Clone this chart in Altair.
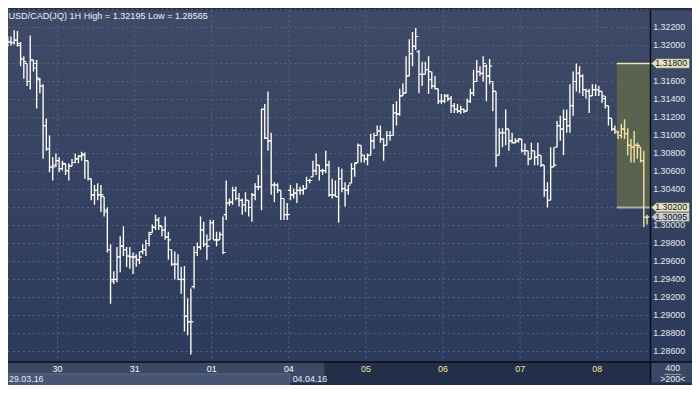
import altair as alt
import pandas as pd

title_text = "USD/CAD(JQ) 1H High = 1.32195 Low = 1.28565"

opens = [
    1.3197, 1.3200, 1.3204, 1.3203, 1.3206, 1.3200, 1.3185, 1.3180, 1.3160, 1.3184,
    1.3180, 1.3162, 1.3155, 1.3111, 1.3085, 1.3065, 1.3067, 1.3072, 1.3063, 1.3068,
    1.3061, 1.3066, 1.3070, 1.3074, 1.3077, 1.3078, 1.3072, 1.3052, 1.3034, 1.3039,
    1.3034, 1.3032, 1.3015, 1.2973, 1.2938, 1.2940, 1.2965, 1.2977, 1.2973, 1.2966,
    1.2965, 1.2965, 1.2962, 1.2971, 1.2973, 1.2980, 1.2992, 1.2998, 1.3006, 1.2999,
    1.2995, 1.2987, 1.2973, 1.2957, 1.2957, 1.2940, 1.2940, 1.2899, 1.2893, 1.2932,
    1.2970, 1.2976, 1.2995, 1.2979, 1.2984, 1.3003, 1.2984, 1.2984, 1.2990, 1.3012,
    1.3025, 1.3026, 1.3039, 1.3030, 1.3028, 1.3023, 1.3028, 1.3020, 1.3034, 1.3043,
    1.3043, 1.3129, 1.3097, 1.3094, 1.3045, 1.3045, 1.3039, 1.3030, 1.3012, 1.3039,
    1.3034, 1.3036, 1.3039, 1.3039, 1.3041, 1.3050, 1.3054, 1.3061, 1.3067, 1.3061,
    1.3061, 1.3067, 1.3034, 1.3034, 1.3032, 1.3052, 1.3041, 1.3039, 1.3047, 1.3063,
    1.3070, 1.3089, 1.3078, 1.3074, 1.3078, 1.3094, 1.3100, 1.3105, 1.3096, 1.3089,
    1.3100, 1.3100, 1.3125, 1.3124, 1.3144, 1.3147, 1.3166, 1.3191, 1.3199, 1.3193,
    1.3168, 1.3168, 1.3173, 1.3162, 1.3155, 1.3152, 1.3138, 1.3138, 1.3144, 1.3141,
    1.3133, 1.3129, 1.3127, 1.3129, 1.3127, 1.3138, 1.3147, 1.3160, 1.3171, 1.3169,
    1.3177, 1.3166, 1.3160, 1.3149, 1.3078, 1.3103, 1.3103, 1.3107, 1.3094, 1.3092,
    1.3094, 1.3096, 1.3083, 1.3083, 1.3074, 1.3083, 1.3076, 1.3078, 1.3067, 1.3039,
    1.3028, 1.3065, 1.3087, 1.3111, 1.3107, 1.3118, 1.3111, 1.3133, 1.3160, 1.3169,
    1.3166, 1.3151, 1.3149, 1.3144, 1.3151, 1.3151, 1.3149, 1.3141, 1.3133, 1.3119,
    1.3107, 1.3103, 1.3100, 1.3107, 1.3102, 1.3089, 1.3087, 1.3089, 1.3087, 1.3072,
    1.3009,
]
highs = [
    1.3204, 1.3210, 1.3210, 1.3217, 1.3216, 1.3204, 1.3188, 1.3180, 1.3211, 1.3184,
    1.3184, 1.3164, 1.3157, 1.3119, 1.3100, 1.3076, 1.3080, 1.3076, 1.3072, 1.3069,
    1.3069, 1.3074, 1.3080, 1.3078, 1.3082, 1.3081, 1.3072, 1.3052, 1.3045, 1.3047,
    1.3045, 1.3032, 1.3020, 1.2979, 1.2949, 1.2976, 1.2988, 1.2999, 1.2976, 1.2976,
    1.2970, 1.2968, 1.2971, 1.2979, 1.2984, 1.2993, 1.3001, 1.3012, 1.3009, 1.2999,
    1.3010, 1.2993, 1.2973, 1.2971, 1.2968, 1.2954, 1.2955, 1.2919, 1.2930, 1.2977,
    1.2981, 1.3010, 1.3004, 1.2990, 1.3006, 1.3006, 1.2993, 1.2993, 1.3010, 1.3050,
    1.3030, 1.3043, 1.3043, 1.3036, 1.3030, 1.3037, 1.3028, 1.3036, 1.3047, 1.3056,
    1.3130, 1.3135, 1.3149, 1.3103, 1.3048, 1.3047, 1.3039, 1.3030, 1.3025, 1.3045,
    1.3041, 1.3047, 1.3043, 1.3045, 1.3054, 1.3052, 1.3072, 1.3080, 1.3067, 1.3063,
    1.3083, 1.3072, 1.3052, 1.3050, 1.3065, 1.3063, 1.3048, 1.3045, 1.3069, 1.3070,
    1.3091, 1.3089, 1.3078, 1.3080, 1.3102, 1.3103, 1.3111, 1.3111, 1.3097, 1.3105,
    1.3105, 1.3135, 1.3138, 1.3152, 1.3158, 1.3188, 1.3207, 1.3215, 1.32195, 1.3195,
    1.3182, 1.3182, 1.3188, 1.3171, 1.3166, 1.3152, 1.3146, 1.3146, 1.3146, 1.3144,
    1.3136, 1.3135, 1.3133, 1.3130, 1.3141, 1.3152, 1.3173, 1.3184, 1.3177, 1.3188,
    1.3179, 1.3185, 1.3160, 1.3149, 1.3108, 1.3108, 1.3129, 1.3107, 1.3103, 1.3097,
    1.3097, 1.3096, 1.3091, 1.3083, 1.3092, 1.3083, 1.3092, 1.3078, 1.3067, 1.3048,
    1.3087, 1.3087, 1.3116, 1.3122, 1.3129, 1.3129, 1.3157, 1.3171, 1.3180, 1.3177,
    1.3168, 1.3152, 1.3152, 1.3157, 1.3157, 1.3155, 1.3149, 1.3144, 1.3133, 1.3119,
    1.3111, 1.3105, 1.3113, 1.3118, 1.3108, 1.3096, 1.3105, 1.3092, 1.3087, 1.3083,
    1.3012,
]
lows = [
    1.3192, 1.3199, 1.3200, 1.3201, 1.3199, 1.3177, 1.3163, 1.3155, 1.3151, 1.3171,
    1.3130, 1.3147, 1.3074, 1.3083, 1.3059, 1.3050, 1.3065, 1.3059, 1.3061, 1.3056,
    1.3050, 1.3066, 1.3069, 1.3069, 1.3072, 1.3052, 1.3050, 1.3028, 1.3023, 1.3028,
    1.3015, 1.3010, 1.2970, 1.2913, 1.2935, 1.2937, 1.2948, 1.2966, 1.2954, 1.2952,
    1.2946, 1.2954, 1.2957, 1.2968, 1.2966, 1.2977, 1.2992, 1.2995, 1.2995, 1.2988,
    1.2984, 1.2962, 1.2955, 1.2940, 1.2940, 1.2924, 1.2882, 1.2878, 1.28565, 1.2930,
    1.2966, 1.2973, 1.2976, 1.2962, 1.2984, 1.2984, 1.2977, 1.2984, 1.2968, 1.3006,
    1.3022, 1.3023, 1.3028, 1.3021, 1.3012, 1.3015, 1.3010, 1.3004, 1.3028, 1.3039,
    1.3017, 1.3096, 1.3083, 1.3034, 1.3026, 1.3036, 1.3006, 1.3006, 1.3006, 1.3028,
    1.3030, 1.3025, 1.3034, 1.3034, 1.3041, 1.3047, 1.3054, 1.3056, 1.3050, 1.3056,
    1.3058, 1.3032, 1.3030, 1.3032, 1.3003, 1.3037, 1.3021, 1.3034, 1.3047, 1.3054,
    1.3070, 1.3070, 1.3070, 1.3067, 1.3078, 1.3085, 1.3100, 1.3092, 1.3072, 1.3089,
    1.3094, 1.3100, 1.3111, 1.3122, 1.3144, 1.3147, 1.3166, 1.3177, 1.3195, 1.3147,
    1.3155, 1.3168, 1.3146, 1.3152, 1.3151, 1.3135, 1.3135, 1.3136, 1.3138, 1.3125,
    1.3125, 1.3125, 1.3124, 1.3125, 1.3127, 1.3136, 1.3144, 1.3160, 1.3166, 1.3160,
    1.3138, 1.3157, 1.3127, 1.3065, 1.3078, 1.3087, 1.3089, 1.3083, 1.3091, 1.3091,
    1.3092, 1.3081, 1.3078, 1.3067, 1.3074, 1.3067, 1.3067, 1.3065, 1.3032, 1.3020,
    1.3028, 1.3065, 1.3087, 1.3094, 1.3078, 1.3103, 1.3103, 1.3122, 1.3149, 1.3147,
    1.3144, 1.3141, 1.3125, 1.3144, 1.3144, 1.3144, 1.3136, 1.3130, 1.3111, 1.3105,
    1.3102, 1.3096, 1.3097, 1.3096, 1.3078, 1.3070, 1.3070, 1.3074, 1.3070, 1.2998,
    1.3001,
]
closes = [
    1.3200, 1.3204, 1.3203, 1.3206, 1.3202, 1.3185, 1.3182, 1.3160, 1.3184, 1.3175,
    1.3164, 1.3155, 1.3111, 1.3085, 1.3065, 1.3065, 1.3072, 1.3063, 1.3069, 1.3061,
    1.3066, 1.3070, 1.3074, 1.3077, 1.3079, 1.3072, 1.3052, 1.3034, 1.3039, 1.3034,
    1.3034, 1.3017, 1.2973, 1.2940, 1.2940, 1.2965, 1.2977, 1.2973, 1.2966, 1.2965,
    1.2965, 1.2962, 1.2965, 1.2973, 1.2980, 1.2990, 1.2998, 1.3006, 1.3000, 1.2995,
    1.2987, 1.2984, 1.2957, 1.2957, 1.2940, 1.2940, 1.2899, 1.2893, 1.2893, 1.2970,
    1.2976, 1.2995, 1.2979, 1.2977, 1.3003, 1.2984, 1.2984, 1.2990, 1.2970, 1.3025,
    1.3026, 1.3039, 1.3030, 1.3028, 1.3023, 1.3028, 1.3020, 1.3034, 1.3043, 1.3043,
    1.3129, 1.3097, 1.3094, 1.3045, 1.3045, 1.3039, 1.3030, 1.3012, 1.3012, 1.3034,
    1.3036, 1.3039, 1.3039, 1.3041, 1.3050, 1.3050, 1.3061, 1.3067, 1.3061, 1.3061,
    1.3067, 1.3034, 1.3034, 1.3032, 1.3052, 1.3041, 1.3039, 1.3045, 1.3063, 1.3069,
    1.3089, 1.3078, 1.3074, 1.3078, 1.3094, 1.3100, 1.3105, 1.3096, 1.3089, 1.3100,
    1.3100, 1.3125, 1.3124, 1.3144, 1.3147, 1.3166, 1.3191, 1.3199, 1.3210, 1.3168,
    1.3168, 1.3173, 1.3171, 1.3155, 1.3152, 1.3138, 1.3138, 1.3144, 1.3141, 1.3133,
    1.3129, 1.3127, 1.3129, 1.3127, 1.3138, 1.3147, 1.3160, 1.3171, 1.3169, 1.3180,
    1.3166, 1.3177, 1.3149, 1.3078, 1.3103, 1.3103, 1.3107, 1.3094, 1.3092, 1.3094,
    1.3096, 1.3083, 1.3083, 1.3074, 1.3083, 1.3076, 1.3078, 1.3067, 1.3039, 1.3028,
    1.3065, 1.3067, 1.3111, 1.3107, 1.3118, 1.3111, 1.3133, 1.3160, 1.3169, 1.3166,
    1.3151, 1.3149, 1.3144, 1.3151, 1.3151, 1.3149, 1.3144, 1.3133, 1.3119, 1.3107,
    1.3105, 1.3100, 1.3107, 1.3102, 1.3089, 1.3087, 1.3089, 1.3089, 1.3072, 1.3009,
    1.30095,
]

day_labels = ["30", "31", "01", "04", "05", "06", "07", "08"]
day_start_bar = [16.5, 40.5, 64.5, 88.5, 112.5, 136.5, 160.5, 184.5]
day_in_range = ["on", "on", "on", "on", "off", "off", "off", "off"]
price_ticks = [1.286, 1.288, 1.290, 1.292, 1.294, 1.296, 1.298, 1.300, 1.302, 1.304,
               1.306, 1.308, 1.310, 1.312, 1.314, 1.316, 1.318, 1.320, 1.322]
grid_prices = price_ticks + [1.324]
zone_start_bar = 190.6
zone_top = 1.318
zone_bottom = 1.302
marker_prices = [1.318, 1.302, 1.30095]
marker_kinds = ["zone", "zone", "last"]
date_left = "29.03.16"
date_right = "04.04.16"
bars_total = "400"
bars_shown = ">200<"

# ---- layout ----
W, H = 650, 356
PR, PB = 42, 21
X0 = 1.0769
X1 = X0 + 200
Y0 = 1.284823
Y1 = 1.323922
xs = alt.Scale(domain=[X0, X1], nice=False, zero=False)
ys = alt.Scale(domain=[Y0, Y1], nice=False, zero=False)
FONT = "Liberation Sans"
GRID = "#586582"
TOP, BOT = "#3e4a67", "#2c3a5b"


def grad(c0, c1):
    return alt.LinearGradient(
        gradient="linear",
        stops=[alt.GradientStop(color=c0, offset=0), alt.GradientStop(color=c1, offset=1)],
        x1=0, x2=0, y1=0, y2=1,
    )


one = pd.DataFrame({"k": [0]})


def box(x, x2, y, y2, fill, stroke=None):
    kw = dict(fill=fill)
    if stroke:
        kw.update(stroke=stroke, strokeWidth=1)
    return alt.Chart(one).mark_rect(**kw).encode(
        x=alt.value(x), x2=alt.value(x2), y=alt.value(y), y2=alt.value(y2)
    )


def label(text, x, y, color="#e8ebf2", align="left", size=9):
    return alt.Chart(pd.DataFrame({"t": [text]})).mark_text(
        align=align, baseline="middle", font=FONT, fontSize=size, color=color
    ).encode(x=alt.value(x), y=alt.value(y), text="t:N")


df = pd.DataFrame({"bar": list(range(len(opens))), "open": opens, "high": highs,
                   "low": lows, "close": closes})
df["zone"] = ["in" if b > zone_start_bar else "out" for b in df["bar"]]
bar_color = alt.Color("zone:N", scale=alt.Scale(domain=["out", "in"], range=["#fdfbf6", "#f4e3a6"]),
                      legend=None)

base = alt.Chart(df)
hl = base.mark_rule(strokeWidth=1.4, clip=True).encode(
    x=alt.X("bar:Q", scale=xs, axis=None),
    y=alt.Y("low:Q", scale=ys, axis=None),
    y2="high:Q",
    color=bar_color,
)
op = base.mark_rule(strokeWidth=1.2, xOffset=-2.6, x2Offset=0, clip=True).encode(
    x=alt.X("bar:Q", scale=xs, axis=None), x2="bar:Q",
    y=alt.Y("open:Q", scale=ys, axis=None), color=bar_color,
)
cl = base.mark_rule(strokeWidth=1.2, xOffset=0, x2Offset=2.6, clip=True).encode(
    x=alt.X("bar:Q", scale=xs, axis=None), x2="bar:Q",
    y=alt.Y("close:Q", scale=ys, axis=None), color=bar_color,
)

grid_h = alt.Chart(pd.DataFrame({"p": grid_prices})).mark_rule(
    strokeDash=[2, 3], color=GRID, strokeWidth=1
).encode(y=alt.Y("p:Q", scale=ys, axis=None), x=alt.value(0), x2=alt.value(W))

days_df = pd.DataFrame({"pos": day_start_bar, "lab": day_labels, "on": day_in_range})
grid_v = alt.Chart(days_df).mark_rule(strokeDash=[2, 3], color=GRID, strokeWidth=1).encode(
    x=alt.X("pos:Q", scale=xs, axis=None), y=alt.value(0), y2=alt.value(H)
)
day_text = alt.Chart(days_df).mark_text(
    align="center", baseline="middle", font=FONT, fontSize=9
).encode(
    x=alt.X("pos:Q", scale=xs, axis=None), y=alt.value(H + 7.5), text="lab:N",
    color=alt.Color("on:N", scale=alt.Scale(domain=["on", "off"], range=["#eef0f5", "#6e7993"]),
                    legend=None),
)

# axis labels that are not covered by a price marker box
covered = set(round(v, 5) for v in marker_prices)
shown_ticks = [v for v in price_ticks if round(v, 5) not in covered]
ylab_df = pd.DataFrame({"p": shown_ticks, "t": [f"{v:.5f}" for v in shown_ticks]})
y_text = alt.Chart(ylab_df).mark_text(
    align="left", baseline="middle", font=FONT, fontSize=9, color="#e4e8f0"
).encode(x=alt.value(W + 2.7), y=alt.Y("p:Q", scale=ys, axis=None), text="t:N")

zone_df = pd.DataFrame({"start": [zone_start_bar], "top": [zone_top], "bottom": [zone_bottom]})
zone_rect = alt.Chart(zone_df).mark_rect(fill="#59634f").encode(
    x=alt.X("start:Q", scale=xs, axis=None), x2=alt.value(W),
    y=alt.Y("top:Q", scale=ys, axis=None), y2="bottom:Q",
)
zone_top_line = alt.Chart(zone_df).mark_rule(color="#f1e6b3", strokeWidth=1.5).encode(
    x=alt.X("start:Q", scale=xs, axis=None), x2=alt.value(W + 2),
    y=alt.Y("top:Q", scale=ys, axis=None),
)
zone_bot_line = alt.Chart(zone_df).mark_rule(color="#aab0ac", strokeWidth=2).encode(
    x=alt.X("start:Q", scale=xs, axis=None), x2=alt.value(W + 2),
    y=alt.Y("bottom:Q", scale=ys, axis=None),
)

sep_v = alt.Chart(one).mark_rule(color="#0b0e16", strokeWidth=1.5).encode(
    x=alt.value(W), y=alt.value(0), y2=alt.value(H + PB)
)
sep_h = alt.Chart(one).mark_rule(color="#0b0e16", strokeWidth=1.5).encode(
    x=alt.value(0), x2=alt.value(W + PR), y=alt.value(H)
)
corner_line = alt.Chart(one).mark_rule(color="#9aa2b4", strokeWidth=1).encode(
    x=alt.value(W + 14), x2=alt.value(W + 31), y=alt.value(H + 12.5)
)

PATH = "M -1 0 L -0.74 -0.25 L 1 -0.25 L 1 0.25 L -0.74 0.25 Z"
mk_df = pd.DataFrame({"p": marker_prices, "t": [f"{v:.5f}" for v in marker_prices],
                      "kind": marker_kinds})
markers = alt.Chart(mk_df).mark_point(
    shape=PATH, size=38.5 ** 2, filled=True, opacity=1, stroke="#55564c", strokeWidth=0.6
).encode(
    x=alt.value(W + 20.25), y=alt.Y("p:Q", scale=ys, axis=None),
    fill=alt.Fill("kind:N", scale=alt.Scale(domain=["zone", "last"], range=["#e6e2c5", "#c7cbd3"]),
                  legend=None),
)
marker_text = alt.Chart(mk_df).mark_text(
    align="left", baseline="middle", font=FONT, fontSize=9, color="#141414"
).encode(x=alt.value(W + 4.7), y=alt.Y("p:Q", scale=ys, axis=None), text="t:N")

layers = [
    box(0, W, 0, H, grad(TOP, BOT)),
    box(W, W + PR, 0, H, grad(TOP, BOT)),
    box(0, W, H, H + PB, "#232e48"),
    box(-5, 320, H, H + PB, "#3c4966"),
    box(-4, 285, H + 12, H + PB + 6, "#475573", stroke="#5b6987"),
    box(W, W + PR, H, H + PB, "#3a4765"),
    grid_h, grid_v,
    zone_rect, zone_top_line, zone_bot_line,
    hl, op, cl,
    sep_v, sep_h, corner_line,
    y_text, day_text,
    label(title_text, 0.5, 6, color="#eef0f4", size=9.2),
    label(date_left, 1, H + 17),
    label(date_right, 288, H + 17),
    label(bars_total, W + 22.5, H + 6.5, align="center"),
    label(bars_shown, W + 22.5, H + 17.5, align="center"),
    markers, marker_text,
]

chart = alt.layer(*layers).properties(
    width=W, height=H,
    autosize=alt.AutoSizeParams(type="none"),
    padding={"left": 0, "top": 0, "right": PR, "bottom": PB},
    background="#232e48",
).configure_view(stroke=None)

chart.save("out.html", embed_options={"renderer": "svg", "actions": False})
